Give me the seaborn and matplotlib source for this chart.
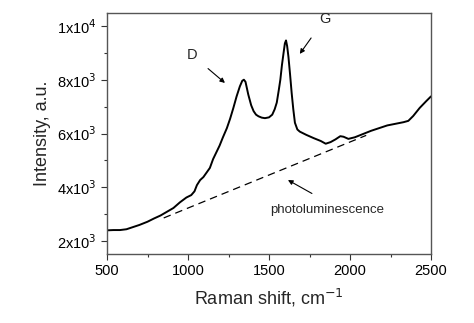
import matplotlib
matplotlib.use("Agg")
import matplotlib.pyplot as plt
import seaborn as sns
import pandas as pd
from matplotlib.ticker import FixedLocator

sns.set_style("ticks")
plt.rcParams['font.family'] = ['Liberation Sans', 'DejaVu Sans']

raman_shift = [500, 540, 580, 620, 660, 700, 750, 790, 830, 870, 910, 950, 990, 1020,
               1040, 1055, 1075, 1095, 1115, 1135, 1155, 1175, 1195, 1215, 1240, 1260,
               1280, 1300, 1320, 1335, 1345, 1355, 1372, 1390, 1405, 1420, 1435, 1455,
               1475, 1500, 1520, 1535, 1548, 1560, 1570, 1580, 1590, 1598, 1605, 1612,
               1620, 1630, 1640, 1650, 1660, 1675, 1690, 1730, 1775, 1820, 1850, 1880,
               1910, 1940, 1960, 1990, 2030, 2080, 2130, 2180, 2230, 2280, 2330, 2360,
               2390, 2430, 2470, 2500]
intensity = [2400, 2410, 2410, 2440, 2520, 2600, 2720, 2840, 2950, 3090, 3230, 3440, 3620, 3710,
             3850, 4080, 4270, 4380, 4550, 4720, 5050, 5300, 5550, 5850, 6200, 6550,
             6950, 7380, 7750, 7960, 8000, 7920, 7450, 7050, 6830, 6700, 6640, 6590,
             6570, 6600, 6700, 6900, 7150, 7600, 8000, 8550, 9000, 9350, 9460, 9250,
             8850, 8200, 7500, 6900, 6400, 6150, 6070, 5950, 5830, 5720, 5620, 5680,
             5780, 5900, 5880, 5800, 5860, 5980, 6100, 6200, 6300, 6360, 6420, 6470,
             6650, 6950, 7200, 7380]

pl_x = [850, 2100]
pl_y = [2860, 5930]

x_ticks = [500, 1000, 1500, 2000, 2500]
y_ticks = [2000, 4000, 6000, 8000, 10000]
y_tick_labels = [r'2x10$^3$', r'4x10$^3$', r'6x10$^3$', r'8x10$^3$', r'1x10$^4$']

df = pd.DataFrame({"shift": raman_shift, "intensity": intensity})
df_pl = pd.DataFrame({"shift": pl_x, "intensity": pl_y})

fig = plt.figure(figsize=(4.74, 3.23), dpi=100)
ax = fig.add_axes([107/474, 1 - 254/323, 324/474, 241/323])

sns.lineplot(data=df, x="shift", y="intensity", ax=ax, color="black", linewidth=1.4)
sns.lineplot(data=df_pl, x="shift", y="intensity", ax=ax, color="black", linewidth=0.9,
             linestyle=(0, (6, 4)))

ax.set_xlim(500, 2500)
ax.set_ylim(1520, 10480)
ax.xaxis.set_major_locator(FixedLocator(x_ticks))
ax.xaxis.set_minor_locator(FixedLocator([750, 1250, 1750, 2250]))
ax.yaxis.set_major_locator(FixedLocator(y_ticks))
ax.yaxis.set_minor_locator(FixedLocator([3000, 5000, 7000, 9000]))
ax.set_yticklabels(y_tick_labels)
ax.tick_params(axis='both', which='major', direction='out', length=4, width=0.8,
               labelsize=10.5, colors='#333333', labelcolor='black')
ax.tick_params(axis='both', which='minor', direction='out', length=2.5, width=0.8, colors='#333333')
for s in ax.spines.values():
    s.set_color('#555555')
    s.set_linewidth(1.0)

ax.set_xlabel(r'Raman shift, cm$^{-1}$', fontsize=13, labelpad=6)
ax.set_ylabel('Intensity, a.u.', fontsize=13, labelpad=4)

ax.annotate('D', xy=(1228, 7880), xytext=(1025, 8920), fontsize=10.5, ha='center', va='center',
            arrowprops=dict(arrowstyle='-|>', color='black', lw=0.8, shrinkA=7, shrinkB=0,
                            mutation_scale=7))
ax.annotate('G', xy=(1690, 8960), xytext=(1845, 10270), fontsize=10.5, ha='center', va='center',
            arrowprops=dict(arrowstyle='-|>', color='black', lw=0.8, shrinkA=8, shrinkB=0,
                            mutation_scale=7))
ax.annotate('', xy=(1617, 4270), xytext=(1765, 3770),
            arrowprops=dict(arrowstyle='-|>', color='black', lw=0.8, shrinkA=0, shrinkB=0,
                            mutation_scale=7))
ax.text(1857, 3150, 'photoluminescence', fontsize=9.5, ha='center', va='center')

fig.savefig("out.png", dpi=100)
